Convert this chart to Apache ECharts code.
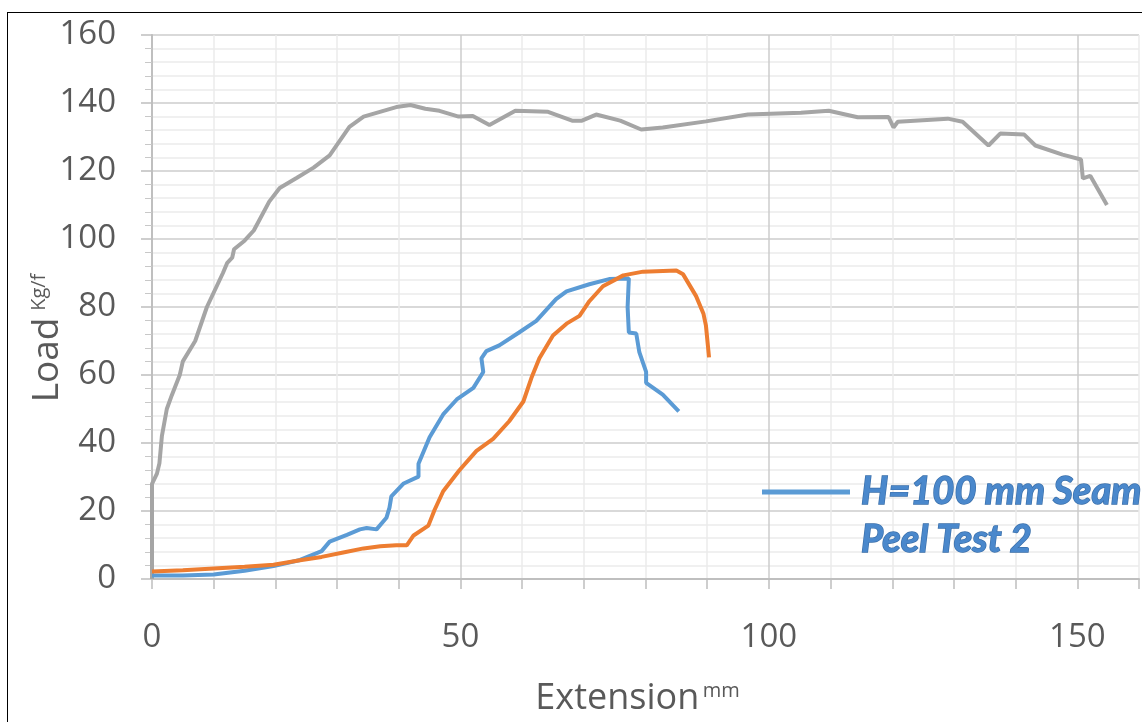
<!DOCTYPE html>
<html>
<head>
<meta charset="utf-8">
<title>Peel test</title>
<script src="https://cdn.jsdelivr.net/npm/echarts@6/dist/echarts.min.js"></script>
<style>
  html, body { margin: 0; padding: 0; background: #fff; }
  #frame { position: absolute; left: 7px; top: 12px; width: 1200px; height: 800px; border-left: 1.5px solid #000; border-top: 1.5px solid #000; }
  #chart { position: absolute; left: 0; top: 0; width: 1142px; height: 722px; }
</style>
</head>
<body>
<div id="frame"></div>
<div id="chart"></div>
<script>
// extension (mm), load (Kg/f)
const greyCurve = [
  [0, 0], [0, 28], [0.8, 31], [1.2, 34], [1.6, 42], [2.4, 50], [3.2, 54], [4.5, 60], [5, 64],
  [7, 70], [8.9, 80], [11.5, 90], [12.2, 93], [13, 94.5], [13.3, 97], [15, 99.5], [16.5, 102.5],
  [19, 111], [20.7, 115], [23.5, 118], [26.2, 121], [28.8, 124.6], [32, 133], [34.3, 136],
  [39.6, 138.8], [41.9, 139.4], [44.3, 138.3], [46.6, 137.7], [49.7, 136], [52, 136.2],
  [54.7, 133.5], [58.9, 137.7], [64.2, 137.4], [68.1, 134.8], [69.7, 134.8], [72, 136.6],
  [75.9, 134.8], [79.3, 132.2], [82.8, 132.8], [89.8, 134.6], [96.6, 136.6], [105.2, 137.1],
  [109.7, 137.7], [114.4, 135.8], [119.4, 135.9], [120.2, 132.8], [120.9, 134.5], [129, 135.4],
  [131.4, 134.5], [135.6, 127.5], [137.5, 131], [141.4, 130.7], [143.2, 127.5], [147.6, 124.8],
  [150.6, 123.4], [150.9, 117.8], [152.1, 118.6], [154.8, 110]
];
const blueCurve = [
  [0, 1], [5, 1], [10, 1.3], [15, 2.4], [19.7, 3.8], [24, 5.6], [27.5, 8.2], [28.8, 11],
  [31.6, 13], [33.7, 14.6], [34.8, 15], [36.4, 14.6], [38, 18], [38.5, 21], [38.8, 24.3],
  [40.8, 28.1], [43.2, 30.1], [43.2, 33.9], [45, 41.7], [47.2, 48.4], [49.4, 52.8], [52.1, 56.2],
  [53.7, 60.9], [53.4, 64.9], [54.2, 67], [56.3, 68.7], [59.5, 72.5], [62.3, 75.9], [65.5, 82.3],
  [67.2, 84.6], [70.9, 86.7], [74.1, 88.2], [77.3, 88.4], [77.1, 80], [77.3, 72.5], [78.5, 72.2],
  [79, 66.7], [80.1, 60.9], [80.1, 57.7], [82.8, 54.2], [85.4, 49.3]
];
const orangeCurve = [
  [0, 2.2], [5, 2.6], [10, 3.1], [15, 3.6], [19.7, 4.2], [24, 5.5], [27.5, 6.5], [31, 7.8],
  [34.3, 9], [37, 9.6], [39.6, 9.9], [41.3, 9.9], [42.4, 12.8], [44.8, 15.7], [45.8, 20.3],
  [47.2, 25.8], [49.8, 31.9], [52.6, 37.7], [55.3, 41.2], [57.9, 46.4], [60.2, 52.2],
  [61.5, 59.1], [62.8, 64.9], [65, 71.6], [67.2, 75.1], [69.3, 77.4], [70.9, 81.7], [73.1, 86.1],
  [76.4, 89.3], [79.6, 90.4], [85, 90.7], [86.1, 89.6], [88.2, 83.2], [89.4, 78], [89.8, 74.5],
  [90.3, 65.2]
];
const legendName = 'H=100 mm Seam Peel Test 2';
const xTicks = [0, 50, 100, 150];
const yTicks = [0, 20, 40, 60, 80, 100, 120, 140, 160];

const labelColor = '#595959';
const chart = echarts.init(document.getElementById('chart'));
chart.setOption({
  animation: false,
  grid: { left: 152, top: 35, width: 989, height: 548 },
  legend: {
    data: [legendName],
    left: 762, top: 420, padding: 0,
    icon: 'rect', itemWidth: 88, itemHeight: 5, itemGap: 0,
    // blank first line keeps the icon level with the first text line
    formatter: () => ' \nH=100 mm Seam\nPeel Test 2',
    textStyle: {
      color: '#4a88cc', fontFamily: 'Lato', fontWeight: 'bold', fontStyle: 'italic',
      fontSize: 38, lineHeight: 48, textBorderColor: '#3a6faa', textBorderWidth: 1.4,
      padding: [0, 0, 0, 6]
    }
  },
  xAxis: {
    type: 'value', min: 0, max: 160, interval: 10,
    name: '{a|Extension} {b|mm}', nameLocation: 'middle', nameGap: 102,
    nameMoveOverlap: false,
    nameTextStyle: {
      padding: [0, 16, 0, 0],
      rich: {
        a: { fontFamily: 'Open Sans', fontSize: 36, color: labelColor, verticalAlign: 'bottom' },
        b: { fontFamily: 'Open Sans', fontSize: 20, color: labelColor, verticalAlign: 'top' }
      }
    },
    axisLine: { lineStyle: { color: '#bfbfbf', width: 2 } },
    axisTick: { length: 10, lineStyle: { color: '#bfbfbf', width: 1.5 } },
    axisLabel: {
      margin: 42, fontFamily: 'Open Sans', fontSize: 33, color: labelColor,
      formatter: v => (xTicks.indexOf(v) >= 0 ? String(v) : '')
    },
    splitLine: {
      show: true,
      lineStyle: { color: ['#cccccc', '#ebebeb', '#ebebeb', '#ebebeb', '#ebebeb'], width: 1.5 }
    }
  },
  yAxis: {
    type: 'value', min: 0, max: 160, interval: 20,
    name: '{a|Load}  {b|Kg/f}', nameLocation: 'middle', nameGap: 86, nameRotate: 90,
    nameMoveOverlap: false,
    nameTextStyle: {
      padding: [0, 62, 0, 0],
      rich: {
        a: { fontFamily: 'Open Sans', fontSize: 37, color: labelColor, verticalAlign: 'bottom' },
        b: { fontFamily: 'Open Sans', fontSize: 20, color: labelColor, verticalAlign: 'top' }
      }
    },
    axisLine: { show: true, lineStyle: { color: '#bfbfbf', width: 2 } },
    axisTick: { show: true, length: 11, lineStyle: { color: '#bfbfbf', width: 1.5 } },
    minorTick: { show: true, splitNumber: 5, length: 7, lineStyle: { color: '#c8c8c8', width: 1 } },
    axisLabel: {
      margin: 36, fontFamily: 'Open Sans', fontSize: 33, color: labelColor,
      formatter: v => (yTicks.indexOf(v) >= 0 ? String(v) : '')
    },
    splitLine: { lineStyle: { color: '#cccccc', width: 1.5 } },
    minorSplitLine: { show: true, lineStyle: { color: '#ebebeb', width: 1.5 } }
  },
  series: [
    { name: 'grey', type: 'line', data: greyCurve, symbol: 'none', color: '#a5a5a5', lineStyle: { width: 4 } },
    { name: legendName, type: 'line', data: blueCurve, symbol: 'none', color: '#5b9bd5', lineStyle: { width: 4 } },
    { name: 'orange', type: 'line', data: orangeCurve, symbol: 'none', color: '#ed7d31', lineStyle: { width: 4 } }
  ]
});
</script>
</body>
</html>
